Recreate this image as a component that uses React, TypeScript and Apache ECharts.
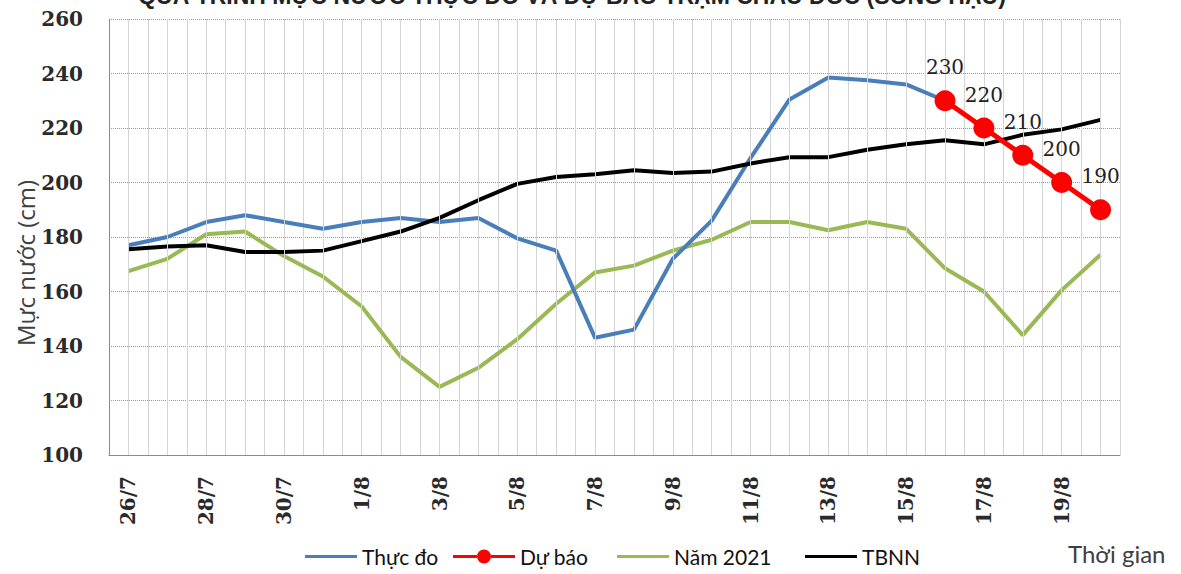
import React, { useEffect, useRef } from "react";
import * as echarts from "echarts";

const categories = [
  "26/7", "27/7", "28/7", "29/7", "30/7", "31/7",
  "1/8", "2/8", "3/8", "4/8", "5/8", "6/8", "7/8", "8/8", "9/8", "10/8",
  "11/8", "12/8", "13/8", "14/8", "15/8", "16/8", "17/8", "18/8", "19/8", "20/8",
];

const thucDo = [
  177, 180, 185.5, 188, 185.5, 183, 185.5, 187, 185.5, 187, 179.5, 175, 143, 146,
  172, 186, 209, 230.5, 238.5, 237.5, 236, 230, null, null, null, null,
];

const duBao = [
  null, null, null, null, null, null, null, null, null, null, null, null, null,
  null, null, null, null, null, null, null, null, 230, 220, 210, 200, 190,
];

const nam2021 = [
  167.5, 172, 181, 182, 173, 165.5, 154.5, 136, 125, 132, 142.5, 155.5, 167,
  169.5, 175, 179, 185.5, 185.5, 182.5, 185.5, 183, 168.5, 160, 144, 160.5, 173.5,
];

const tbnn = [
  175.5, 176.5, 177, 174.5, 174.5, 175, 178.5, 182, 187, 193.5, 199.5, 202, 203,
  204.5, 203.5, 204, 207, 209.3, 209.3, 212, 214, 215.5, 214, 217.5, 219.5, 223,
];

const TITLE = "QUÁ TRÌNH MỰC NƯỚC THỰC ĐO VÀ DỰ BÁO TRẠM CHÂU ĐỐC (SÔNG HẬU)";

const LINE_ICON = "path://M0 5.5 L52 5.5 L52 8.5 L0 8.5 Z";
const MARK_ICON =
  "path://M0 5.5 L24 5.5 L24 8.5 L0 8.5 Z M38 5.5 L62 5.5 L62 8.5 L38 8.5 Z M24 7 A7 7 0 1 0 38 7 A7 7 0 1 0 24 7 Z";

const GRID_COLOR = "#d4d4d4";

export default function App() {
  const ref = useRef<HTMLDivElement>(null);

  useEffect(() => {
    if (!ref.current) return;
    const chart = echarts.init(ref.current, undefined, { renderer: "svg" });
    const legendText = { fontFamily: "Lato", fontSize: 21, color: "#111" };
    const tickFont = { fontFamily: "DejaVu Serif", fontSize: 20, fontWeight: "bold", color: "#2a2a2a" };
    chart.setOption({
      animation: false,
      backgroundColor: "#ffffff",
      grid: { left: 109, right: 61, top: 19, bottom: 119, containLabel: false },
      legend: [
        { data: ["Thực đo"], left: 300, top: 541, itemWidth: 52, itemHeight: 14, icon: LINE_ICON, textStyle: legendText },
        { data: ["Dự báo"], left: 448, top: 541, itemWidth: 62, itemHeight: 14, icon: MARK_ICON, textStyle: legendText },
        { data: ["Năm 2021"], left: 612, top: 541, itemWidth: 52, itemHeight: 14, icon: LINE_ICON, textStyle: legendText },
        { data: ["TBNN"], left: 800, top: 541, itemWidth: 52, itemHeight: 14, icon: LINE_ICON, textStyle: legendText },
      ],
      xAxis: {
        type: "category",
        data: categories,
        boundaryGap: true,
        axisLine: { show: true, lineStyle: { color: "#8c8c8c", width: 1 } },
        axisTick: { show: false },
        splitLine: { show: true, interval: 0, lineStyle: { color: GRID_COLOR, width: 1 } },
        axisLabel: { interval: 1, rotate: 90, margin: 21, ...tickFont },
      },
      yAxis: {
        type: "value",
        min: 100,
        max: 260,
        interval: 20,
        axisLine: { show: true, lineStyle: { color: "#8c8c8c", width: 1 } },
        axisTick: { show: false },
        axisLabel: { margin: 26, ...tickFont },
        splitLine: { show: true, lineStyle: { color: "#9a9a9a", type: "dotted", width: 1 } },
      },
      series: [
        {
          name: "grid-helper",
          type: "line",
          data: [],
          symbol: "none",
          silent: true,
          z: 1,
          markLine: {
            silent: true,
            symbol: "none",
            label: { show: false },
            lineStyle: { color: GRID_COLOR, width: 1, type: "solid" },
            data: categories.map((c) => ({ xAxis: c })),
          },
        },
        {
          name: "Thực đo",
          type: "line",
          data: thucDo,
          symbol: "none",
          lineStyle: { color: "#4A7EBB", width: 4 },
          itemStyle: { color: "#4A7EBB" },
          z: 3,
        },
        {
          name: "Năm 2021",
          type: "line",
          data: nam2021,
          symbol: "none",
          lineStyle: { color: "#98B954", width: 4 },
          itemStyle: { color: "#98B954" },
          z: 2,
        },
        {
          name: "TBNN",
          type: "line",
          data: tbnn,
          symbol: "none",
          lineStyle: { color: "#000000", width: 4 },
          itemStyle: { color: "#000000" },
          z: 4,
        },
        {
          name: "Dự báo",
          type: "line",
          data: duBao,
          symbol: "circle",
          symbolSize: 21,
          lineStyle: { color: "#FF0000", width: 5 },
          itemStyle: { color: "#FF0000" },
          label: {
            show: true,
            position: "top",
            distance: 13,
            fontFamily: "DejaVu Serif",
            fontSize: 20,
            color: "#222",
          },
          z: 5,
        },
      ],
      graphic: [
        {
          type: "text",
          x: 572,
          y: 7,
          style: {
            text: TITLE,
            align: "center",
            verticalAlign: "bottom",
            fontFamily: "Liberation Sans",
            fontWeight: "bold",
            fontSize: 23,
            fill: "#222",
          },
        },
        {
          type: "text",
          x: 25,
          y: 263,
          rotation: Math.PI / 2,
          style: {
            text: "Mực nước (cm)",
            align: "center",
            verticalAlign: "middle",
            fontFamily: "Open Sans",
            fontSize: 24,
            fill: "#404040",
          },
        },
        {
          type: "text",
          x: 1068,
          y: 553,
          style: {
            text: "Thời gian",
            align: "left",
            verticalAlign: "middle",
            fontFamily: "Lato",
            fontSize: 24,
            fill: "#404040",
          },
        },
      ],
    });
    return () => chart.dispose();
  }, []);

  return (
    <div
      ref={ref}
      style={{ position: "absolute", left: 0, top: 0, width: 1181, height: 574, background: "#fff" }}
    />
  );
}
